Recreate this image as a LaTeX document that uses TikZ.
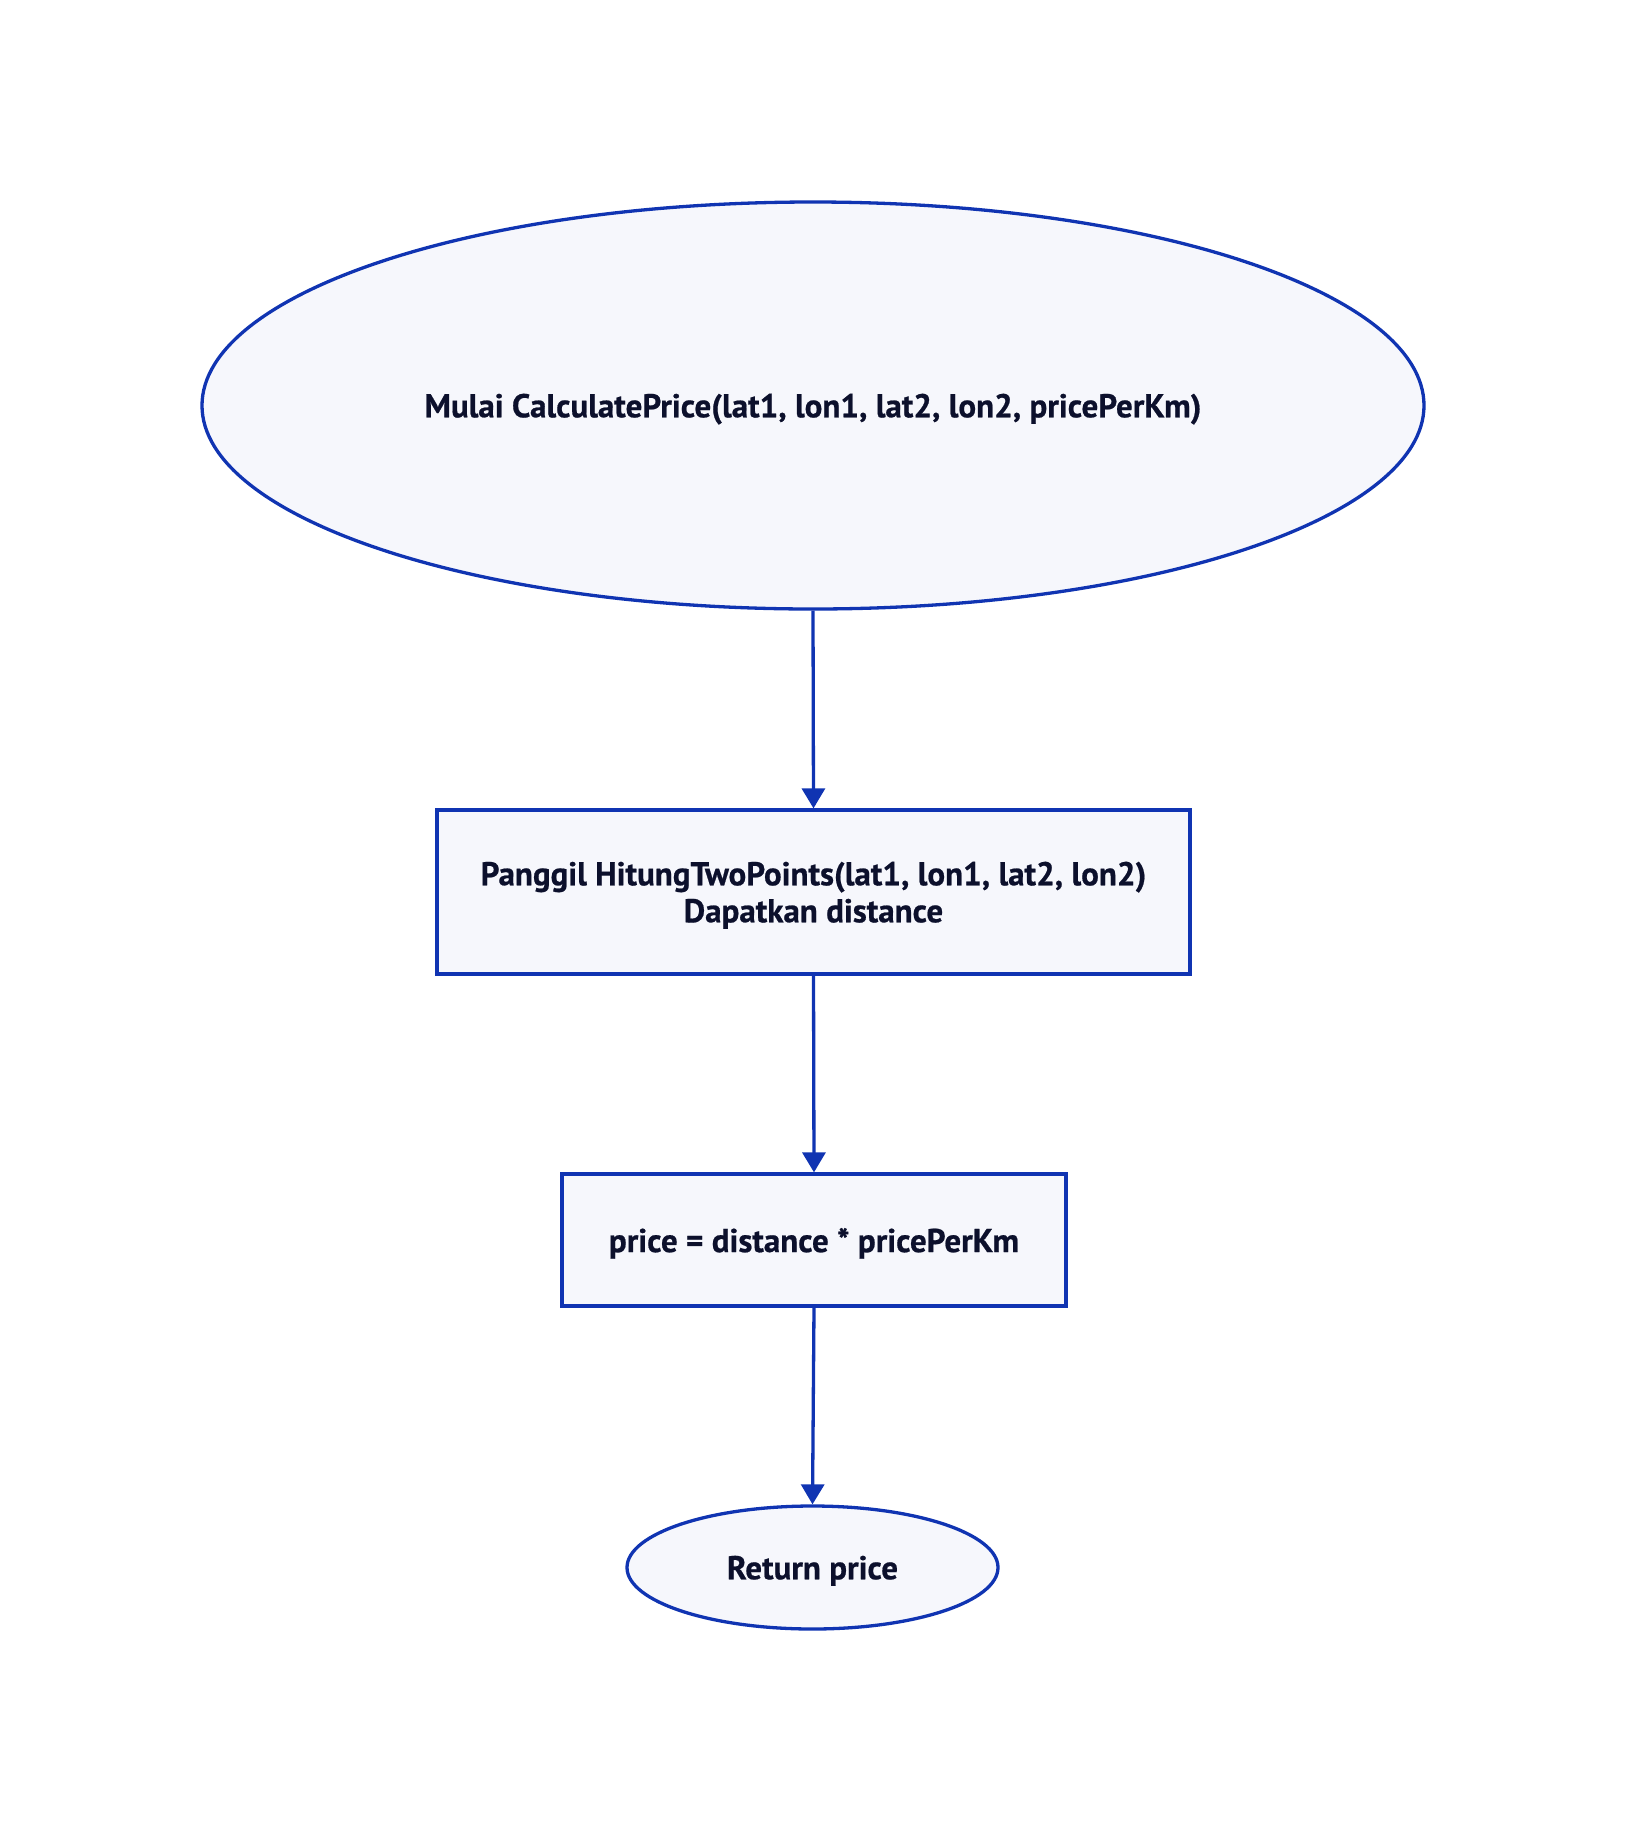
\documentclass[tikz,border=0pt]{standalone}
\usepackage{fontspec}
\setmainfont{PT Sans}[BoldFeatures={FakeBold=0.6}]
\usetikzlibrary{arrows.meta,shapes.geometric}
\definecolor{edgeblue}{RGB}{16,52,178}
\definecolor{nodefill}{RGB}{246,247,252}
\definecolor{textdark}{RGB}{12,16,44}
\tikzset{
  base/.style={draw=edgeblue, line width=3.3pt, fill=nodefill, text=textdark,
    font=\fontsize{33}{37}\selectfont\bfseries, inner sep=0pt, align=center,
    text depth=0pt},
  termnode/.style={base, ellipse},
  procbox/.style={base, rectangle},
  flow/.style={draw=edgeblue, line width=3.3pt, -{Triangle[width=23pt,length=20pt]}}
}
\begin{document}
\begin{tikzpicture}[x=1pt,y=-1pt]
\useasboundingbox (0,0) rectangle (1626,1832);
\node[termnode, minimum width=1222pt, minimum height=407pt] (start) at (813,405.5)
  {Mulai CalculatePrice(lat1, lon1, lat2, lon2, pricePerKm)};
\node[procbox, minimum width=753pt, minimum height=164pt] (call) at (813.5,892)
  {Panggil HitungTwoPoints(lat1, lon1, lat2, lon2)\\Dapatkan distance};
\node[procbox, minimum width=504pt, minimum height=132pt] (calc) at (814,1240)
  {price = distance * pricePerKm};
\node[termnode, minimum width=371pt, minimum height=123pt] (ret) at (812.5,1567.5)
  {Return price};
\draw[flow] (start.south) -- (call.north);
\draw[flow] (call.south) -- (calc.north);
\draw[flow] (calc.south) -- (ret.north);
\end{tikzpicture}
\end{document}
